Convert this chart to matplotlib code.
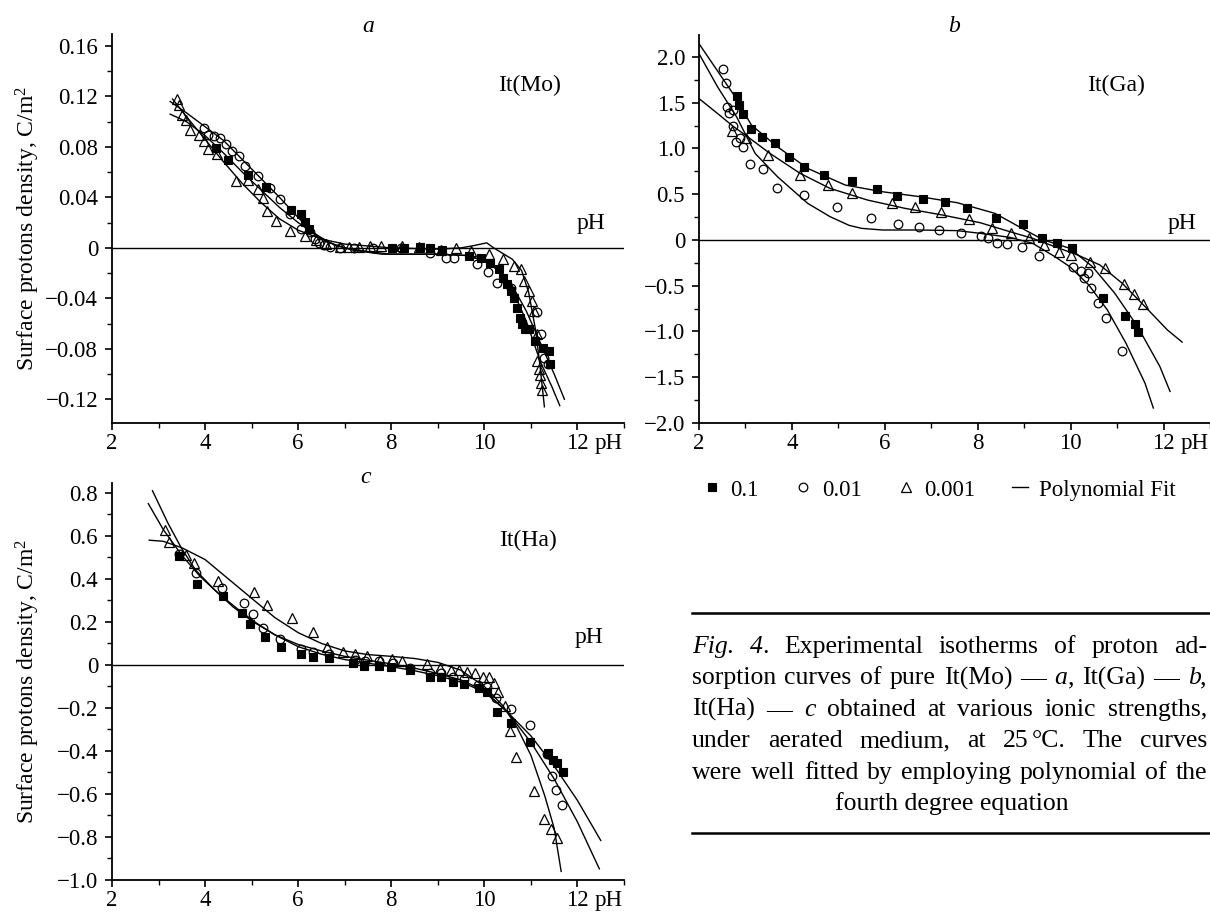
import matplotlib
matplotlib.use('Agg')
import matplotlib.pyplot as plt
from matplotlib.lines import Line2D

plt.rcParams['font.family'] = ['Liberation Serif', 'DejaVu Serif']
plt.rcParams['mathtext.fontset'] = 'custom'
plt.rcParams['mathtext.rm'] = 'Liberation Serif'
plt.rcParams['mathtext.it'] = 'Liberation Serif:italic'
plt.rcParams['axes.unicode_minus'] = True

# ---------------- data ----------------
x_major = [2, 4, 6, 8, 10, 12]
x_labels = ['2', '4', '6', '8', '10', '12']
x_minor = [3, 5, 7, 9, 11, 13]

# Panel a: It(Mo)
a_yticks = [0.16, 0.12, 0.08, 0.04, 0, -0.04, -0.08, -0.12]
a_ylabels = ['0.16', '0.12', '0.08', '0.04', '0', '\u22120.04', '\u22120.08', '\u22120.12']
a_yminor = [0.14, 0.10, 0.06, 0.02, -0.02, -0.06, -0.10]

a_sq_x = [4.24, 4.50, 4.92, 5.31, 5.85, 6.06, 6.15, 6.23, 8.01, 8.27, 8.61, 8.83, 9.09, 9.66, 9.92,
          10.13, 10.31, 10.39, 10.48, 10.57, 10.63, 10.70, 10.76, 10.81, 10.87, 10.96, 11.09, 11.26,
          11.39, 11.41]
a_sq_y = [0.079, 0.0695, 0.0578, 0.0486, 0.0298, 0.0267, 0.0206, 0.0148, -0.0003, -0.0003, 0.0003,
          -0.0003, -0.0019, -0.0064, -0.0082, -0.0117, -0.017, -0.0236, -0.0289, -0.0342, -0.0395,
          -0.0474, -0.0554, -0.0607, -0.0646, -0.0646, -0.0739, -0.0792, -0.0818, -0.092]
a_ci_x = [3.98, 4.07, 4.20, 4.32, 4.45, 4.57, 4.72, 4.86, 5.13, 5.40, 5.62, 5.83, 6.06, 6.25, 6.37,
          6.44, 6.55, 6.69, 6.90, 7.20, 7.60, 8.20, 8.84, 9.17, 9.35, 9.85, 10.07, 10.28, 10.57,
          11.14, 11.21, 11.28, 11.36]
a_ci_y = [0.0948, 0.0895, 0.0887, 0.0869, 0.0826, 0.0768, 0.0731, 0.065, 0.057, 0.0478, 0.0386,
          0.0267, 0.0148, 0.0127, 0.0069, 0.0042, 0.0025, 0.0007, 0.0, 0.0, 0.0, -0.0005, -0.0037,
          -0.0077, -0.0077, -0.013, -0.0195, -0.0275, -0.032, -0.0512, -0.068, -0.087, -0.092]
a_tr_x = [3.39, 3.45, 3.51, 3.58, 3.68, 3.87, 3.97, 4.07, 4.26, 4.67, 4.92, 5.14, 5.24, 5.34, 5.52,
          5.82, 6.15, 6.38, 6.60, 6.90, 7.10, 7.30, 7.55, 7.77, 8.24, 8.60, 9.06, 9.40, 9.71, 10.10,
          10.39, 10.64, 10.78, 10.85, 10.96, 11.03, 11.07, 11.14, 11.14, 11.18, 11.20, 11.21, 11.23]
a_tr_y = [0.1176, 0.1136, 0.105, 0.101, 0.0935, 0.0895, 0.0845, 0.0784, 0.074, 0.0532, 0.054, 0.0466,
          0.0392, 0.0294, 0.0209, 0.0135, 0.0095, 0.006, 0.003, 0.0005, 0.001, 0.001, 0.0016, 0.0016,
          0.0016, 0.001, -0.0019, 0.0, -0.0024, -0.005, -0.009, -0.0143, -0.017, -0.026, -0.034,
          -0.042, -0.050, -0.068, -0.0895, -0.096, -0.101, -0.107, -0.113]

a_fit_sq_x = [3.25, 3.6, 4.0, 4.4, 4.8, 5.2, 5.6, 6.0, 6.4, 6.8, 7.2, 7.8, 9.0, 9.6, 10.0, 10.3, 10.6,
              10.9, 11.2, 11.45, 11.62]
a_fit_sq_y = [0.106, 0.100, 0.089, 0.075, 0.060, 0.046, 0.032, 0.020, 0.010, 0.002, -0.002, -0.005,
              -0.005, -0.006, -0.010, -0.017, -0.033, -0.058, -0.090, -0.110, -0.125]
a_fit_ci_x = [3.25, 3.6, 4.0, 4.4, 4.8, 5.2, 5.6, 6.0, 6.3, 6.6, 7.0, 7.5, 8.0, 9.0, 9.6, 10.0, 10.3,
              10.6, 10.9, 11.2, 11.5, 11.72]
a_fit_ci_y = [0.116, 0.107, 0.096, 0.085, 0.070, 0.055, 0.040, 0.024, 0.013, 0.005, 0.0, -0.003,
              -0.005, -0.005, -0.006, -0.010, -0.018, -0.030, -0.050, -0.075, -0.100, -0.120]
a_fit_tr_x = [3.3, 3.6, 4.0, 4.4, 4.8, 5.2, 5.6, 6.0, 6.5, 7.0, 8.0, 9.0, 9.5, 9.8, 10.05, 10.2, 10.6,
              10.8, 10.95, 11.1, 11.2, 11.29]
a_fit_tr_y = [0.118, 0.104, 0.086, 0.068, 0.051, 0.036, 0.023, 0.014, 0.007, 0.003, 0.0, -0.001, 0.0,
              0.002, 0.004, 0.0, -0.009, -0.018, -0.035, -0.065, -0.095, -0.126]

# Panel b: It(Ga)
b_yticks = [2.0, 1.5, 1.0, 0.5, 0, -0.5, -1.0, -1.5, -2.0]
b_ylabels = ['2.0', '1.5', '1.0', '0.5', '0', '\u22120.5', '\u22121.0', '\u22121.5', '\u22122.0']
b_yminor = [1.75, 1.25, 0.75, 0.25, -0.25, -0.75, -1.25, -1.75]

b_sq_x = [2.81, 2.87, 2.94, 3.13, 3.35, 3.63, 3.94, 4.26, 4.70, 5.29, 5.84, 6.27, 6.82, 7.29, 7.77,
          8.40, 8.98, 9.39, 9.70, 10.02, 10.69, 11.17, 11.38, 11.44]
b_sq_y = [1.571, 1.473, 1.382, 1.218, 1.12, 1.062, 0.909, 0.80, 0.709, 0.647, 0.553, 0.48, 0.447,
          0.411, 0.345, 0.236, 0.175, 0.018, -0.036, -0.091, -0.629, -0.836, -0.92, -1.011]
b_ci_x = [2.52, 2.58, 2.61, 2.65, 2.73, 2.74, 2.79, 2.89, 2.95, 3.09, 3.37, 3.68, 4.26, 4.98, 5.71,
          6.29, 6.73, 7.16, 7.65, 8.07, 8.23, 8.41, 8.63, 8.95, 9.32, 10.06, 10.23, 10.29, 10.37,
          10.43, 10.59, 10.77, 11.10]
b_ci_y = [1.873, 1.716, 1.455, 1.393, 1.418, 1.244, 1.073, 1.109, 1.011, 0.829, 0.771, 0.564, 0.491,
          0.364, 0.236, 0.171, 0.138, 0.109, 0.073, 0.047, 0.018, -0.036, -0.044, -0.08, -0.175,
          -0.291, -0.335, -0.418, -0.364, -0.527, -0.691, -0.855, -1.218]
b_tr_x = [2.70, 3.01, 3.49, 4.18, 4.78, 5.29, 6.15, 6.64, 7.21, 7.81, 8.31, 8.71, 9.11, 9.42, 9.76,
          10.0, 10.41, 10.73, 11.15, 11.37, 11.56]
b_tr_y = [1.189, 1.109, 0.927, 0.709, 0.60, 0.509, 0.407, 0.364, 0.309, 0.229, 0.127, 0.073, 0.025,
          -0.055, -0.127, -0.164, -0.236, -0.302, -0.48, -0.593, -0.698]

b_fit_sq_x = [2.0, 2.73, 3.13, 3.69, 4.34, 5.15, 5.95, 6.76, 7.56, 8.37, 9.02, 9.42, 9.98, 10.47,
              10.95, 11.44, 11.92, 12.14]
b_fit_sq_y = [2.145, 1.6, 1.255, 1.018, 0.782, 0.6, 0.527, 0.473, 0.407, 0.291, 0.109, 0.0, -0.091,
              -0.291, -0.582, -0.945, -1.382, -1.655]
b_fit_ci_x = [2.0, 2.40, 2.81, 3.21, 3.69, 4.34, 4.82, 5.23, 5.5, 5.95, 6.76, 7.56, 8.05, 8.69, 9.18,
              9.66, 9.98, 10.39, 10.79, 11.19, 11.6, 11.78]
b_fit_ci_y = [2.036, 1.673, 1.345, 0.945, 0.691, 0.40, 0.255, 0.16, 0.127, 0.109, 0.109, 0.102, 0.073,
              0.029, -0.036, -0.182, -0.291, -0.491, -0.764, -1.127, -1.564, -1.836]
b_fit_tr_x = [2.0, 2.40, 2.73, 3.05, 3.53, 4.18, 4.82, 5.63, 6.44, 7.24, 8.05, 8.69, 9.18, 9.66,
              10.15, 10.63, 11.11, 11.6, 12.08, 12.40]
b_fit_tr_y = [1.545, 1.382, 1.244, 1.127, 0.945, 0.727, 0.564, 0.436, 0.345, 0.273, 0.189, 0.091,
              0.018, -0.073, -0.164, -0.273, -0.473, -0.727, -0.982, -1.116]

# Panel c: It(Ha)
c_yticks = [0.8, 0.6, 0.4, 0.2, 0, -0.2, -0.4, -0.6, -0.8, -1.0]
c_ylabels = ['0.8', '0.6', '0.4', '0.2', '0', '\u22120.2', '\u22120.4', '\u22120.6', '\u22120.8', '\u22121.0']
c_yminor = [0.7, 0.5, 0.3, 0.1, -0.1, -0.3, -0.5, -0.7, -0.9]

c_sq_x = [3.43, 3.83, 4.39, 4.80, 4.97, 5.28, 5.64, 6.06, 6.32, 6.67, 7.17, 7.41, 7.74, 8.0, 8.41,
          8.83, 9.06, 9.32, 9.57, 9.89, 10.06, 10.28, 10.57, 10.97, 11.37, 11.47, 11.56, 11.69]
c_sq_y = [0.505, 0.377, 0.322, 0.241, 0.191, 0.129, 0.082, 0.050, 0.036, 0.031, 0.008, -0.005,
          -0.003, -0.011, -0.023, -0.057, -0.057, -0.078, -0.090, -0.106, -0.127, -0.217, -0.272,
          -0.357, -0.409, -0.44, -0.455, -0.497]
c_ci_x = [3.43, 3.80, 4.37, 4.83, 5.02, 5.25, 5.61, 6.06, 6.32, 6.67, 7.21, 7.43, 7.74, 8.03, 8.41,
          8.83, 9.06, 9.32, 9.57, 9.87, 10.06, 10.26, 10.58, 10.99, 11.34, 11.45, 11.53, 11.67]
c_ci_y = [0.517, 0.427, 0.360, 0.287, 0.238, 0.174, 0.121, 0.073, 0.059, 0.050, 0.023, 0.020, 0.020,
          0.011, -0.012, -0.039, -0.039, -0.057, -0.065, -0.093, -0.101, -0.155, -0.207, -0.280,
          -0.416, -0.517, -0.583, -0.652]
c_tr_x = [3.13, 3.22, 3.58, 3.76, 4.28, 5.06, 5.34, 5.87, 6.32, 6.61, 6.96, 7.23, 7.48, 7.76, 8.02,
          8.23, 8.76, 9.04, 9.28, 9.45, 9.63, 9.80, 9.97, 10.09, 10.21, 10.30, 10.44, 10.56, 10.69,
          11.06, 11.28, 11.43, 11.57]
c_tr_y = [0.626, 0.570, 0.513, 0.474, 0.388, 0.337, 0.280, 0.217, 0.155, 0.085, 0.062, 0.050, 0.042,
          0.023, 0.026, 0.020, 0.003, -0.012, -0.023, -0.023, -0.034, -0.039, -0.054, -0.057, -0.085,
          -0.124, -0.190, -0.308, -0.430, -0.586, -0.715, -0.761, -0.805]

c_fit_sq_x = [2.78, 3.1, 3.5, 3.9, 4.3, 4.7, 5.1, 5.5, 6.0, 6.5, 7.0, 7.5, 8.0, 8.5, 9.0, 9.5, 10.0,
              10.5, 11.0, 11.5, 12.0, 12.5]
c_fit_sq_y = [0.75, 0.63, 0.51, 0.41, 0.33, 0.26, 0.195, 0.14, 0.085, 0.05, 0.025, 0.008, -0.008,
              -0.027, -0.05, -0.08, -0.125, -0.22, -0.33, -0.47, -0.63, -0.816]
c_fit_ci_x = [2.87, 3.2, 3.5, 3.8, 4.2, 4.6, 5.0, 5.5, 6.0, 6.5, 7.0, 7.5, 8.0, 8.5, 9.0, 9.5, 10.0,
              10.5, 11.0, 11.5, 12.0, 12.47]
c_fit_ci_y = [0.81, 0.66, 0.54, 0.44, 0.35, 0.27, 0.205, 0.14, 0.095, 0.065, 0.04, 0.022, 0.005,
              -0.015, -0.04, -0.07, -0.12, -0.22, -0.36, -0.53, -0.73, -0.948]
c_fit_tr_x = [2.8, 3.1, 3.5, 4.0, 4.5, 5.0, 5.5, 6.0, 6.5, 7.0, 7.5, 8.0, 8.5, 9.0, 9.5, 10.0, 10.4,
              10.7, 11.0, 11.3, 11.5, 11.65]
c_fit_tr_y = [0.58, 0.575, 0.545, 0.49, 0.40, 0.31, 0.22, 0.15, 0.10, 0.065, 0.048, 0.04, 0.03,
              0.012, -0.025, -0.10, -0.19, -0.29, -0.42, -0.61, -0.76, -0.96]

legend_labels = ['0.1', '0.01', '0.001', 'Polynomial Fit']

# ---------------- figure ----------------
W, H = 1210, 913
fig = plt.figure(figsize=(W / 100, H / 100), dpi=100)
TFS = 16.5


def rect(l, t, r, b):
    return [l / W, 1 - b / H, (r - l) / W, (b - t) / H]


def fx(x):
    return x / W


def fy(y):
    return 1 - y / H


SQ = dict(ls='none', marker='s', ms=5.6, mfc='black', mec='black', mew=0.8)
CI = dict(ls='none', marker='o', ms=6.2, mfc='none', mec='black', mew=0.9)
TR = dict(ls='none', marker='^', ms=6.6, mfc='none', mec='black', mew=0.9)
FIT = dict(color='black', lw=1.0)


def style(ax, ylim, yt, yl, ym):
    ax.set_xlim(2, 13)
    ax.set_ylim(*ylim)
    for s in ['top', 'right']:
        ax.spines[s].set_visible(False)
    for s in ['left', 'bottom']:
        ax.spines[s].set_linewidth(1.3)
    ax.set_xticks(x_major)
    ax.set_xticklabels(x_labels)
    ax.set_xticks(x_minor, minor=True)
    ax.set_yticks(yt)
    ax.set_yticklabels(yl)
    ax.set_yticks(ym, minor=True)
    ax.tick_params(which='major', direction='out', length=5, width=1.2, labelsize=TFS)
    ax.tick_params(which='minor', direction='out', length=3.5, width=1.0)
    ax.tick_params(axis='x', which='major', pad=2)
    ax.tick_params(axis='y', which='major', pad=5)
    ax.axhline(0, color='black', lw=1.0)
    ax.annotate('pH', xy=(12, 0), xycoords=ax.get_xaxis_transform(), xytext=(12.0, -7.0),
                textcoords='offset points', ha='left', va='top', fontsize=TFS, annotation_clip=False)


def draw(ax, sq, ci, tr, fsq, fci, ftr):
    ax.plot(*fsq, **FIT)
    ax.plot(*fci, **FIT)
    ax.plot(*ftr, **FIT)
    ax.plot(*sq, **SQ)
    ax.plot(*ci, **CI)
    ax.plot(*tr, **TR)


ylab = 'Surface protons density, C/m$^2$'

ax_a = fig.add_axes(rect(112, 34, 624, 423))
style(ax_a, (-0.1388, 0.1695), a_yticks, a_ylabels, a_yminor)
draw(ax_a, (a_sq_x, a_sq_y), (a_ci_x, a_ci_y), (a_tr_x, a_tr_y),
     (a_fit_sq_x, a_fit_sq_y), (a_fit_ci_x, a_fit_ci_y), (a_fit_tr_x, a_fit_tr_y))
ax_a.set_ylabel(ylab, fontsize=17)
ax_a.yaxis.set_label_coords((28 - 112) / 512, 0.5)
ax_a.yaxis.label.set_va('center')

ax_b = fig.add_axes(rect(699, 35, 1210, 423))
style(ax_b, (-2.0, 2.24), b_yticks, b_ylabels, b_yminor)
draw(ax_b, (b_sq_x, b_sq_y), (b_ci_x, b_ci_y), (b_tr_x, b_tr_y),
     (b_fit_sq_x, b_fit_sq_y), (b_fit_ci_x, b_fit_ci_y), (b_fit_tr_x, b_fit_tr_y))

ax_c = fig.add_axes(rect(112, 483, 624, 880))
style(ax_c, (-1.0, 0.846), c_yticks, c_ylabels, c_yminor)
draw(ax_c, (c_sq_x, c_sq_y), (c_ci_x, c_ci_y), (c_tr_x, c_tr_y),
     (c_fit_sq_x, c_fit_sq_y), (c_fit_ci_x, c_fit_ci_y), (c_fit_tr_x, c_fit_tr_y))
ax_c.set_ylabel(ylab, fontsize=17)
ax_c.yaxis.set_label_coords((28 - 112) / 512, 0.5)
ax_c.yaxis.label.set_va('center')

# panel letters and labels
fig.text(fx(368), fy(32), 'a', style='italic', fontsize=17, ha='center', va='baseline')
fig.text(fx(954), fy(32), 'b', style='italic', fontsize=17, ha='center', va='baseline')
fig.text(fx(366), fy(483), 'c', style='italic', fontsize=17, ha='center', va='baseline')
fig.text(fx(530), fy(85), 'It(Mo)', fontsize=17, ha='center', va='center')
fig.text(fx(1116), fy(85), 'It(Ga)', fontsize=17, ha='center', va='center')
fig.text(fx(528), fy(540), 'It(Ha)', fontsize=17, ha='center', va='center')
fig.text(fx(591), fy(223), 'pH', fontsize=17, ha='center', va='center')
fig.text(fx(1182), fy(223), 'pH', fontsize=17, ha='center', va='center')
fig.text(fx(589), fy(637), 'pH', fontsize=17, ha='center', va='center')

# legend
handles = [Line2D([], [], **SQ), Line2D([], [], **CI), Line2D([], [], **TR), Line2D([], [], **FIT)]
fig.legend(handles, legend_labels, loc='center left', bbox_to_anchor=(fx(704), fy(490)), ncol=4,
           frameon=False, fontsize=TFS, handlelength=0.7, handletextpad=0.45, columnspacing=1.6,
           borderpad=0, borderaxespad=0)

# caption with rules
fig.add_artist(Line2D([fx(692), fx(1210)], [fy(613), fy(613)], color='black', lw=1.8))
fig.add_artist(Line2D([fx(692), fx(1210)], [fy(833), fy(833)], color='black', lw=1.8))

CFS = 18.5
cap_lines = [
    [[("Fig.", "italic")], [("4", "italic"), (".", "normal")], "Experimental", "isotherms", "of",
     "proton", "ad-"],
    ["sorption", "curves", "of", "pure", "It(Mo)", "\u2014", [("a", "italic"), (",", "normal")],
     "It(Ga)", "\u2014", [("b", "italic"), (",", "normal")]],
    ["It(Ha)", "\u2014", [("c", "italic")], "obtained", "at", "various", "ionic", "strengths,"],
    ["under", "aerated", "medium,", "at", [("25", "normal"), 3.0, ("\u00b0C.", "normal")], "The",
     "curves"],
    ["were", "well", "fitted", "by", "employing", "polynomial", "of", "the"],
]
cap_last = "fourth degree equation"
cap_left, cap_right = 692, 1207
cap_base0, cap_step = 653, 31.4

renderer = fig.canvas.get_renderer()


def seg_w(text, st):
    t = fig.text(0, 0, text, fontsize=CFS, style=st)
    w = t.get_window_extent(renderer).width
    t.remove()
    return w


for i, line in enumerate(cap_lines):
    words = []
    for w in line:
        if isinstance(w, str):
            words.append([(w, 'normal')])
        else:
            words.append(w)
    widths = []
    for w in words:
        tot = 0
        for s in w:
            tot += s if isinstance(s, float) else seg_w(s[0], s[1])
        widths.append(tot)
    gap = (cap_right - cap_left - sum(widths)) / (len(words) - 1)
    x = cap_left
    base = cap_base0 + i * cap_step
    for w, ww in zip(words, widths):
        xx = x
        for s in w:
            if isinstance(s, float):
                xx += s
                continue
            fig.text(fx(xx), fy(base), s[0], fontsize=CFS, style=s[1], ha='left', va='baseline')
            xx += seg_w(s[0], s[1])
        x += ww + gap
fig.text(fx(952), fy(cap_base0 + 5 * cap_step), cap_last, fontsize=CFS, ha='center', va='baseline')

fig.savefig('out.png', dpi=100)
